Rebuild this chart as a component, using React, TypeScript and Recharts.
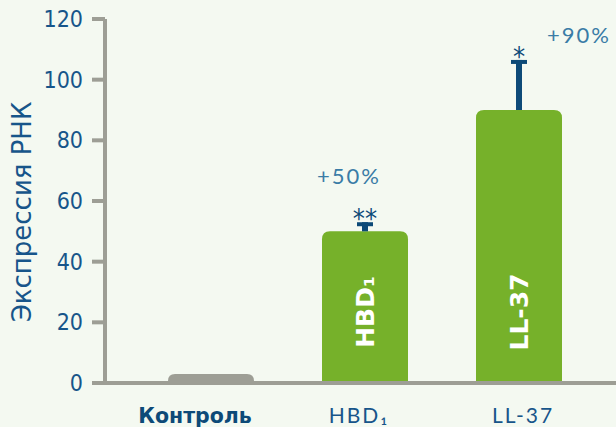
import { BarChart, Bar, XAxis, YAxis, LabelList } from "recharts";

// values
const categories = ["Контроль", "HBD₁", "LL-37"];
const expression = [3, 50, 90];
const errorUp = [0, 3, 16.5];
const stars = ["", "**", "*"];
const changes = ["", "+50%", "+90%"];
const barLabels = ["", "HBD₁", "LL-37"];
const yTicks = [0, 20, 40, 60, 80, 100, 120];

const BG = "#f4f9f1";
const GREEN = "#76b12a";
const GREY = "#9d9e95";
const NAVY = "#0d4a78";
const TICK_BLUE = "#17558a";
const NOTE_BLUE = "#3a7ca6";
const FONT = "'DejaVu Sans', sans-serif";
const FONT_NARROW = "'DejaVu Sans Condensed', 'DejaVu Sans', sans-serif";
const FONT_LIGHT = "Lato, 'DejaVu Sans', sans-serif";

// annotation nudges (dx, dy from the error bar top)
const changeOffsets = [[0, 0], [-16, -47], [60, -25]];
const tickNudge = [-16, -6, 4];

const data = categories.map((name, i) => ({
  name,
  value: expression[i],
  err: errorUp[i],
  star: stars[i],
  change: changes[i],
  inner: barLabels[i],
}));

function BarShape(props: any) {
  const { x, y, width, height, index, payload } = props;
  const r = index === 0 ? 7 : 8;
  const fill = index === 0 ? GREY : GREEN;
  const d = `M${x},${y + height} L${x},${y + r} Q${x},${y} ${x + r},${y} L${x + width - r},${y} Q${x + width},${y} ${x + width},${y + r} L${x + width},${y + height} Z`;
  const cx = x + width / 2;
  const errPx = payload.err > 0 ? (height / payload.value) * payload.err : 0;
  const top = y - errPx;
  const off = changeOffsets[index];
  return (
    <g>
      <path d={d} fill={fill} />
      {errPx > 0 && (
        <g>
          <line x1={cx} x2={cx} y1={y} y2={top} stroke={NAVY} strokeWidth={6} />
          <line x1={cx - 8} x2={cx + 8} y1={top + 2} y2={top + 2} stroke={NAVY} strokeWidth={4} />
          <text x={cx} y={top + 6} textAnchor="middle" fill={NAVY} fontSize={27} fontFamily={FONT_NARROW}>
            {payload.star}
          </text>
          <text
            x={cx + off[0]}
            y={top + off[1]}
            textAnchor="middle"
            dominantBaseline="central"
            fill={NOTE_BLUE}
            fontSize={22}
            letterSpacing={2}
            fontFamily={FONT_LIGHT}
          >
            {payload.change}
          </text>
        </g>
      )}
    </g>
  );
}

function InnerLabel(props: any) {
  const { x, y, width, height, value } = props;
  if (!value) return null;
  const cx = x + width / 2;
  const cy = y + height - 71;
  return (
    <text
      x={cx}
      y={cy}
      transform={`rotate(-90 ${cx} ${cy})`}
      textAnchor="middle"
      dominantBaseline="central"
      fill="#ffffff"
      fontWeight="bold"
      fontSize={25}
      fontFamily={FONT}
    >
      {value}
    </text>
  );
}

function CategoryTick(props: any) {
  const { x, y, payload, index } = props;
  const first = index === 0;
  return (
    <text
      x={x + tickNudge[index]}
      y={y + 32}
      textAnchor="middle"
      fill={first ? NAVY : TICK_BLUE}
      fontWeight={first ? "bold" : "normal"}
      fontSize={first ? 20.5 : 21}
      letterSpacing={first ? 0 : 2}
      fontFamily={first ? FONT : FONT_LIGHT}
    >
      {payload.value}
    </text>
  );
}

function YTitle() {
  return (
    <text
      x={22}
      y={212}
      transform="rotate(-90 22 212)"
      textAnchor="middle"
      dominantBaseline="central"
      fill={TICK_BLUE}
      fontSize={26}
      fontFamily={FONT}
    >
      Экспрессия РНК
    </text>
  );
}

export default function App() {
  return (
    <div style={{ position: "absolute", left: 0, top: 0, width: 616, height: 427, background: BG, overflow: "hidden" }}>
      <BarChart width={616} height={427} data={data} margin={{ top: 19, right: 0, bottom: 0, left: 0 }} barSize={86}>
        <XAxis
          dataKey="name"
          height={44}
          axisLine={{ stroke: GREY, strokeWidth: 4 }}
          tickLine={false}
          padding={{ left: 29, right: 20 }}
          tick={<CategoryTick />}
          interval={0}
        />
        <YAxis
          width={105}
          domain={[0, 120]}
          ticks={yTicks}
          axisLine={{ stroke: GREY, strokeWidth: 4 }}
          tickLine={{ stroke: GREY, strokeWidth: 4 }}
          tickSize={13}
          tickMargin={9}
          tick={{ fill: TICK_BLUE, fontSize: 23, fontFamily: FONT_NARROW }}
          label={<YTitle />}
        />
        <Bar dataKey="value" shape={<BarShape />} isAnimationActive={false}>
          <LabelList dataKey="inner" content={<InnerLabel />} />
        </Bar>
      </BarChart>
    </div>
  );
}
